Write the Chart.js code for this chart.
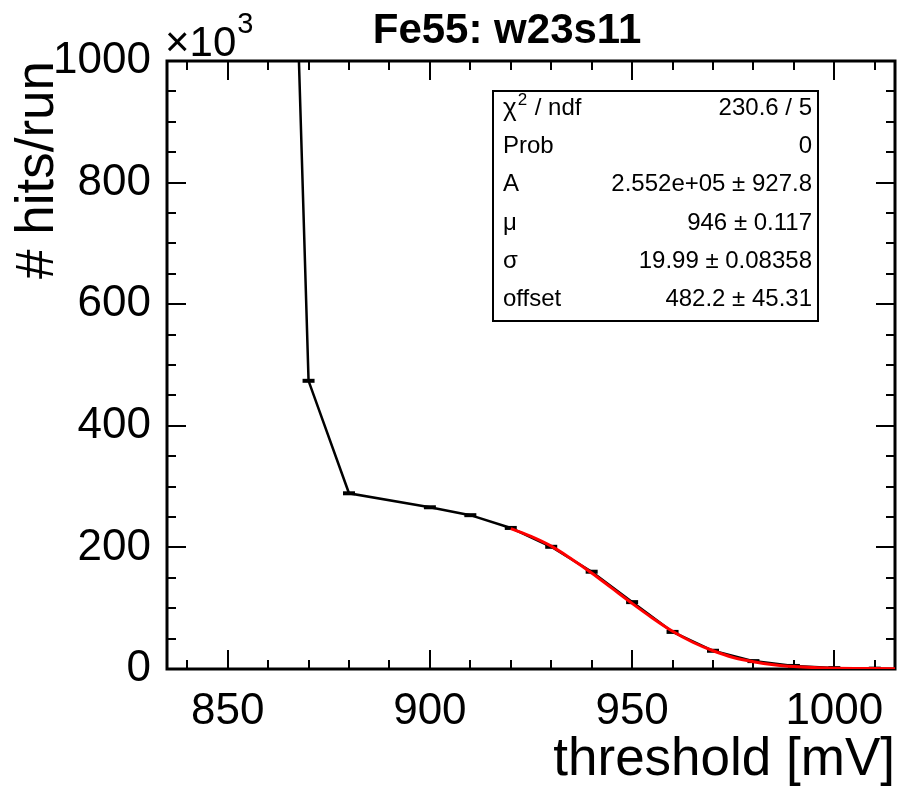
<!DOCTYPE html>
<html>
<head>
<meta charset="utf-8">
<title>Fe55: w23s11</title>
<script src="https://cdn.jsdelivr.net/npm/chart.js@4.4.1/dist/chart.umd.min.js"></script>
<style>
  html, body { margin: 0; padding: 0; background: #fff; }
</style>
</head>
<body>
<canvas id="chart" width="905" height="787"></canvas>
<script>
// threshold scan: hits per run, in units of 10^3
const thresholds = [860, 870, 880, 900, 910, 920, 930, 940, 950, 960, 970, 980, 990, 1000, 1010];
const hits = [2684, 474, 289, 266, 253, 232, 201, 160, 110, 61, 30, 13, 5, 1.5, 0.6];

// fitted s-curve, sampled every 5 mV
const fitX = [920, 925, 930, 935, 940, 945, 950, 955, 960, 965, 970, 975, 980, 985, 990, 995, 1000, 1005, 1010, 1015];
const fitY = [231, 218, 202, 181, 158, 133, 108, 84, 62, 44, 30, 19, 12, 7, 4, 2.3, 1.4, 0.9, 0.7, 0.6];

const xTicks = [850, 900, 950, 1000];
const yTicks = [0, 200, 400, 600, 800, 1000];

// fit results box
const statLabels = ["χ2 / ndf", "Prob", "A", "μ", "σ", "offset"];
const statValues = ["230.6 / 5", "0", "2.552e+05 ± 927.8", "946 ± 0.117", "19.99 ± 0.08358", "482.2 ± 45.31"];

const FONT = '"Liberation Sans", Arial, Helvetica, sans-serif';

function line(ctx, x1, y1, x2, y2) {
  ctx.beginPath();
  ctx.moveTo(x1, y1);
  ctx.lineTo(x2, y2);
  ctx.stroke();
}

// ROOT-like frame: inward ticks on all four sides, drawn under the graphs
const rootFrame = {
  id: 'rootFrame',
  beforeDatasetsDraw(chart) {
    const { ctx, chartArea: a, scales: { x, y } } = chart;
    ctx.save();
    ctx.strokeStyle = '#000';
    ctx.lineWidth = 2;
    for (let v = 840; v <= 1010; v += 10) {
      const px = Math.round(x.getPixelForValue(v));
      const len = v % 50 === 0 ? 19 : 9;
      line(ctx, px, a.bottom, px, a.bottom - len);
      line(ctx, px, a.top, px, a.top + len);
    }
    for (let v = 0; v <= 1000; v += 50) {
      const py = Math.round(y.getPixelForValue(v));
      const len = v % 200 === 0 ? 19 : 9;
      line(ctx, a.left, py, a.left + len, py);
      line(ctx, a.right, py, a.right - len, py);
    }
    ctx.lineWidth = 3;
    ctx.strokeRect(a.left, a.top, a.right - a.left, a.bottom - a.top);
    ctx.restore();
  },
  // title, axis exponent and the fit results box
  afterDraw(chart) {
    const { ctx } = chart;
    ctx.save();
    ctx.fillStyle = '#000';
    ctx.strokeStyle = '#000';

    ctx.font = 'bold 42px ' + FONT;
    ctx.textAlign = 'center';
    ctx.textBaseline = 'alphabetic';
    ctx.fillText('Fe55: w23s11', 507, 43);

    ctx.textAlign = 'left';
    ctx.font = '42px ' + FONT;
    ctx.fillText('×10', 165, 56);
    const w = ctx.measureText('×10').width;
    ctx.font = '29px ' + FONT;
    ctx.fillText('3', 165 + w + 1, 33);

    const bx = 493, by = 91, bw = 325, bh = 230;
    ctx.fillStyle = '#fff';
    ctx.fillRect(bx, by, bw, bh);
    ctx.fillStyle = '#000';
    ctx.lineWidth = 2;
    ctx.strokeRect(bx, by, bw, bh);
    const rowH = bh / statLabels.length;
    ctx.font = '24px ' + FONT;
    ctx.textBaseline = 'middle';
    statLabels.forEach((lab, i) => {
      const cy = by + rowH * (i + 0.5) - 2;
      ctx.textAlign = 'left';
      if (lab.startsWith('χ2')) {
        ctx.font = '26px ' + FONT;
        ctx.fillText('χ', bx + 10, cy + 1);
        let cx = bx + 10 + ctx.measureText('χ').width;
        ctx.font = '17px ' + FONT;
        ctx.fillText('2', cx + 1, cy - 8);
        cx += ctx.measureText('2').width + 2;
        ctx.font = '24px ' + FONT;
        ctx.fillText(lab.slice(2), cx, cy);
      } else {
        ctx.fillText(lab, bx + 10, cy);
      }
      ctx.textAlign = 'right';
      ctx.fillText(statValues[i], bx + bw - 6, cy);
    });
    ctx.restore();
  }
};

new Chart(document.getElementById('chart'), {
  type: 'line',
  data: {
    datasets: [
      {
        data: fitX.map((v, i) => ({ x: v, y: fitY[i] })),
        borderColor: '#ff0000',
        borderWidth: 3,
        pointRadius: 0,
        cubicInterpolationMode: 'monotone',
        order: 0
      },
      {
        data: thresholds.map((v, i) => ({ x: v, y: hits[i] })),
        borderColor: '#000',
        borderWidth: 2.5,
        pointStyle: 'line',
        pointRadius: 6,
        pointBorderWidth: 4,
        pointBorderColor: '#000',
        order: 1
      }
    ]
  },
  options: {
    responsive: false,
    animation: false,
    layout: { padding: { left: 0, right: 10, top: 61, bottom: 0 } },
    plugins: {
      legend: { display: false },
      tooltip: { enabled: false },
      title: { display: false }
    },
    scales: {
      x: {
        type: 'linear',
        min: 835,
        max: 1015,
        grid: { display: false, drawTicks: false, tickLength: 0 },
        border: { display: false },
        afterBuildTicks: s => { s.ticks = xTicks.map(v => ({ value: v })); },
        afterFit: s => { s.height = 118; },
        ticks: {
          color: '#000',
          font: { family: FONT, size: 44 },
          padding: 16,
          maxRotation: 0,
          autoSkip: false,
          callback: v => String(v)
        },
        title: {
          display: true,
          text: 'threshold [mV]',
          align: 'end',
          color: '#000',
          font: { family: FONT, size: 53, lineHeight: 1.0 },
          padding: { top: 0, bottom: 0 }
        }
      },
      y: {
        type: 'linear',
        min: 0,
        max: 1000,
        grid: { display: false, drawTicks: false, tickLength: 0 },
        border: { display: false },
        afterBuildTicks: s => { s.ticks = yTicks.map(v => ({ value: v })); },
        afterFit: s => { s.width = 167; },
        ticks: {
          color: '#000',
          font: { family: FONT, size: 44 },
          padding: 16,
          autoSkip: false,
          callback: v => String(v)
        },
        title: {
          display: true,
          text: '# hits/run',
          align: 'end',
          color: '#000',
          font: { family: FONT, size: 53 },
          padding: { top: 7, bottom: 0 }
        }
      }
    }
  },
  plugins: [rootFrame]
});
</script>
</body>
</html>
